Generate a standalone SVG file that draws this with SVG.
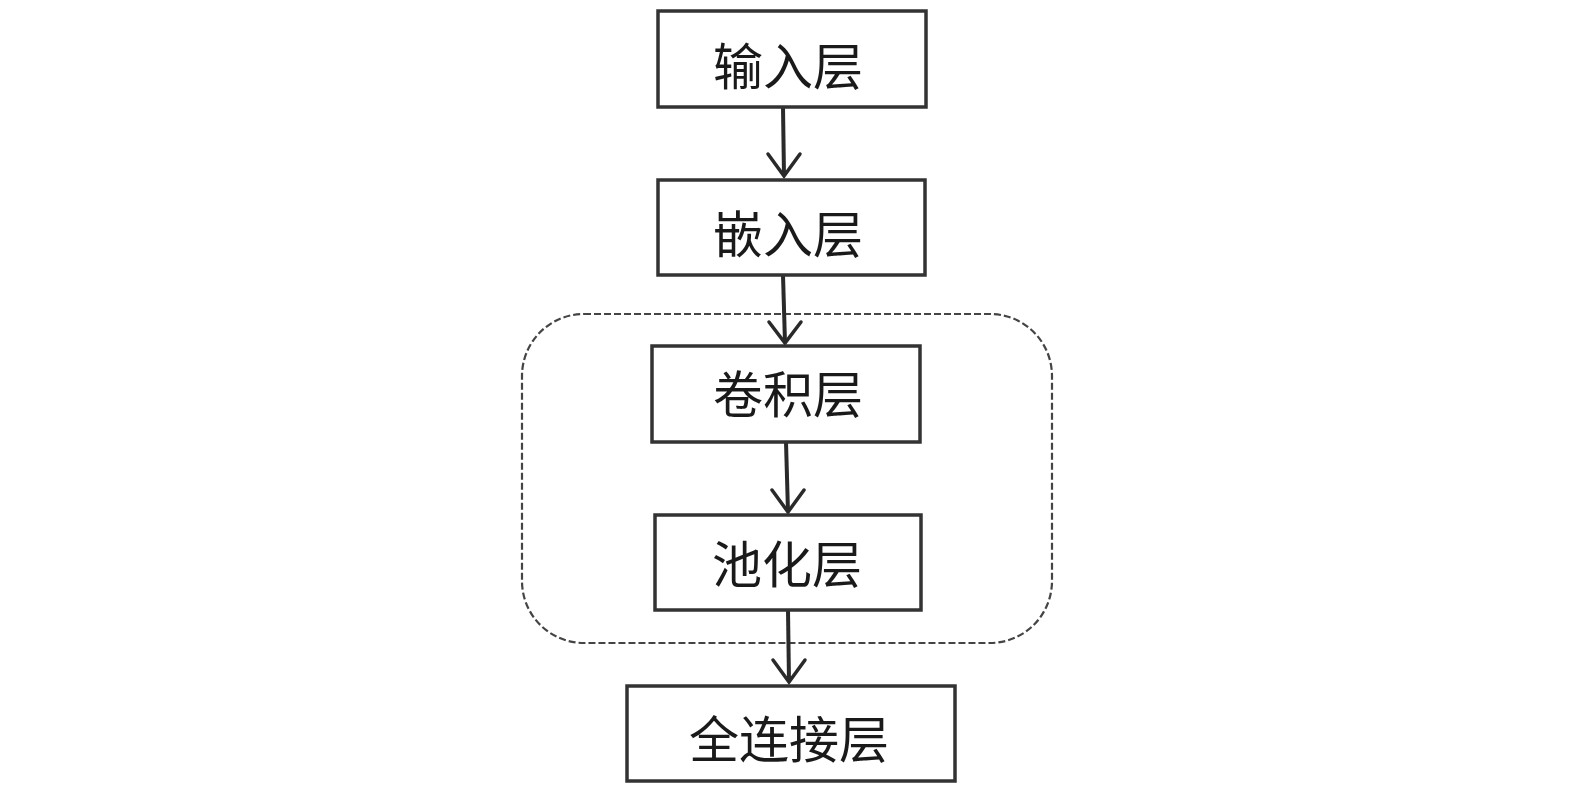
<svg xmlns="http://www.w3.org/2000/svg" width="1575" height="797" viewBox="0 0 1575 797">
<style>
.box{fill:#fff;stroke:#333;stroke-width:3.5}
.lbl{font-family:"Liberation Serif","Noto Sans CJK SC",serif;font-size:50px;fill:#1a1a1a;text-anchor:middle}
.ln{stroke:#2a2a2a;stroke-width:4;fill:none}
.hd{stroke:#2a2a2a;stroke-width:3.5;fill:none;stroke-linecap:round;stroke-linejoin:miter}
</style>
<rect width="1575" height="797" fill="#fff"/>
<g id="group">
<rect x="522" y="314" width="530" height="329" rx="62" ry="62" fill="none" stroke="#444" stroke-width="2.2" stroke-dasharray="7,3"/>
</g>
<g id="connectors">
<line class="ln" x1="783" y1="107" x2="784" y2="176"/>
<polyline class="hd" points="768,154 784,176 800,154"/>
<line class="ln" x1="783" y1="275" x2="785" y2="343"/>
<polyline class="hd" points="769,322 785,343 801,322"/>
<line class="ln" x1="786" y1="442" x2="788" y2="512"/>
<polyline class="hd" points="772,490 788,512 804,490"/>
<line class="ln" x1="788" y1="610" x2="789" y2="682"/>
<polyline class="hd" points="773,660 789,682 805,660"/>
</g>
<g id="n1">
<rect class="box" x="658" y="11" width="268" height="96"/>
<text class="lbl" x="788" y="85">输入层</text>
</g>
<g id="n2">
<rect class="box" x="658" y="180" width="267" height="95"/>
<text class="lbl" x="788" y="253">嵌入层</text>
</g>
<g id="n3">
<rect class="box" x="652" y="346" width="268" height="96"/>
<text class="lbl" x="788" y="413">卷积层</text>
</g>
<g id="n4">
<rect class="box" x="655" y="515" width="266" height="95"/>
<text class="lbl" x="787" y="583">池化层</text>
</g>
<g id="n5">
<rect class="box" x="627" y="686" width="328" height="95"/>
<text class="lbl" x="789" y="758">全连接层</text>
</g>
</svg>
